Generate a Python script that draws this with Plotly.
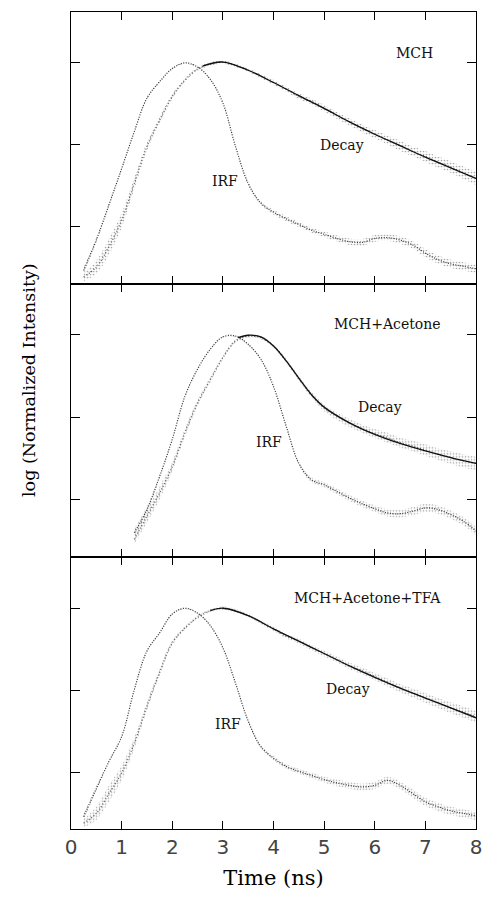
import plotly.graph_objects as go
from plotly.subplots import make_subplots

# time grid (ns)
t_grid = [0.25, 0.5, 0.75, 1.0, 1.25, 1.5, 1.75, 2.0, 2.25, 2.5, 2.75, 3.0, 3.25, 3.5,
          3.75, 4.0, 4.25, 4.5, 4.75, 5.0, 5.25, 5.5, 5.75, 6.0, 6.25, 6.5, 6.75, 7.0,
          7.25, 7.5, 7.75, 8.0]

# log10 of normalized intensity, MCH
irf_mch = [-2.54, -2.17, -1.74, -1.30, -0.85, -0.44, -0.24, -0.08, -0.01, -0.06, -0.21,
           -0.50, -1.03, -1.48, -1.72, -1.83, -1.91, -1.98, -2.05, -2.10, -2.15, -2.19,
           -2.20, -2.15, -2.14, -2.17, -2.23, -2.33, -2.41, -2.46, -2.49, -2.52]
decay_mch = [-2.62, -2.50, -2.25, -1.93, -1.48, -1.03, -0.71, -0.42, -0.22, -0.085, -0.024,
             0.0, -0.04, -0.10, -0.17, -0.25, -0.33, -0.42, -0.48, -0.565, -0.65, -0.73,
             -0.81, -0.88, -0.95, -1.02, -1.09, -1.15, -1.22, -1.28, -1.35, -1.42]
# half-width of the scatter of counts (decades)
irf_sd_mch = [0.04, 0.03, 0.02, 0.01, 0.01, 0.01, 0.01, 0.01, 0.01, 0.01, 0.01,
              0.01, 0.01, 0.02, 0.02, 0.03, 0.03, 0.03, 0.03, 0.035, 0.035, 0.04,
              0.04, 0.04, 0.04, 0.045, 0.045, 0.05, 0.05, 0.05, 0.05, 0.05]
decay_sd_mch = [0.05, 0.08, 0.10, 0.09, 0.07, 0.05, 0.04, 0.03, 0.02, 0.02, 0.02,
                0.02, 0.02, 0.02, 0.025, 0.03, 0.03, 0.035, 0.035, 0.04, 0.04, 0.045,
                0.05, 0.05, 0.055, 0.06, 0.06, 0.065, 0.07, 0.07, 0.075, 0.08]

# MCH + Acetone
irf_ace = [None, None, None, None, -2.40, -2.12, -1.72, -1.27, -0.75, -0.42, -0.18,
           -0.03, -0.02, -0.12, -0.30, -0.63, -1.11, -1.56, -1.76, -1.82, -1.90, -1.98,
           -2.05, -2.11, -2.16, -2.17, -2.14, -2.10, -2.12, -2.18, -2.26, -2.38]
decay_ace = [None, None, None, None, -2.48, -2.20, -1.92, -1.60, -1.19, -0.83, -0.55,
             -0.28, -0.08, -0.02, -0.04, -0.14, -0.32, -0.53, -0.73, -0.89, -0.99, -1.07,
             -1.14, -1.20, -1.25, -1.31, -1.35, -1.40, -1.45, -1.49, -1.53, -1.56]
irf_sd_ace = [None, None, None, None, 0.05, 0.04, 0.02, 0.01, 0.01, 0.01, 0.01,
              0.01, 0.01, 0.01, 0.01, 0.01, 0.01, 0.02, 0.03, 0.03, 0.035, 0.035,
              0.04, 0.04, 0.045, 0.045, 0.05, 0.05, 0.05, 0.05, 0.05, 0.05]
decay_sd_ace = [None, None, None, None, 0.06, 0.08, 0.08, 0.06, 0.05, 0.04, 0.03,
                0.02, 0.02, 0.02, 0.02, 0.02, 0.025, 0.03, 0.035, 0.04, 0.045, 0.05,
                0.05, 0.055, 0.06, 0.06, 0.065, 0.07, 0.07, 0.075, 0.08, 0.08]

# MCH + Acetone + TFA
irf_tfa = [-2.53, -2.19, -1.86, -1.56, -0.99, -0.52, -0.30, -0.07, 0.0, -0.06, -0.21,
           -0.48, -0.91, -1.37, -1.68, -1.82, -1.92, -1.98, -2.03, -2.08, -2.12, -2.15,
           -2.17, -2.15, -2.09, -2.15, -2.25, -2.35, -2.41, -2.46, -2.49, -2.52]
decay_tfa = [-2.61, -2.49, -2.25, -2.00, -1.64, -1.19, -0.78, -0.42, -0.24, -0.11, -0.03,
             0.0, -0.03, -0.09, -0.17, -0.25, -0.34, -0.40, -0.48, -0.55, -0.62, -0.70,
             -0.76, -0.83, -0.90, -0.97, -1.03, -1.09, -1.15, -1.21, -1.26, -1.32]
irf_sd_tfa = [0.04, 0.03, 0.02, 0.01, 0.01, 0.01, 0.01, 0.01, 0.01, 0.01, 0.01,
              0.01, 0.01, 0.02, 0.02, 0.025, 0.03, 0.03, 0.035, 0.035, 0.04, 0.04,
              0.04, 0.045, 0.045, 0.045, 0.05, 0.05, 0.05, 0.05, 0.05, 0.05]
decay_sd_tfa = [0.05, 0.08, 0.10, 0.09, 0.07, 0.05, 0.04, 0.03, 0.02, 0.02, 0.02,
                0.02, 0.02, 0.02, 0.02, 0.025, 0.025, 0.03, 0.03, 0.035, 0.035, 0.04,
                0.04, 0.045, 0.05, 0.05, 0.055, 0.06, 0.06, 0.065, 0.07, 0.07]

# fitted decay curves
fit_t_mch = [2.6, 3.0, 3.5, 4.0, 4.5, 5.0, 5.5, 6.0, 6.5, 7.0, 7.5, 8.0]
fit_mch = [-0.05, 0.0, -0.10, -0.25, -0.41, -0.565, -0.73, -0.88, -1.02, -1.16, -1.29, -1.42]
fit_t_ace = [3.3, 3.5, 3.75, 4.0, 4.25, 4.5, 4.75, 5.0, 5.5, 6.0, 6.5, 7.0, 7.5, 8.0]
fit_ace = [-0.04, -0.01, -0.03, -0.14, -0.32, -0.53, -0.73, -0.88, -1.07, -1.21, -1.32,
           -1.41, -1.49, -1.56]
fit_t_tfa = [2.75, 3.0, 3.5, 4.0, 4.5, 5.0, 5.5, 6.0, 6.5, 7.0, 7.5, 8.0]
fit_tfa = [-0.03, 0.0, -0.09, -0.25, -0.40, -0.55, -0.70, -0.84, -0.97, -1.09, -1.21, -1.33]

panels = [
    ("MCH", irf_mch, irf_sd_mch, decay_mch, decay_sd_mch, fit_t_mch, fit_mch,
     [-2.71, 0.61], (6.78, 0.11), (5.36, -1.01), (3.04, -1.45)),
    ("MCH+Acetone", irf_ace, irf_sd_ace, decay_ace, decay_sd_ace, fit_t_ace, fit_ace,
     [-2.69, 0.606], (6.25, 0.12), (6.10, -0.88), (3.92, -1.30)),
    ("MCH+Acetone+TFA", irf_tfa, irf_sd_tfa, decay_tfa, decay_sd_tfa, fit_t_tfa, fit_tfa,
     [-2.68, 0.626], (5.85, 0.13), (5.48, -0.98), (3.10, -1.41)),
]

SERIF = "DejaVu Serif"

fig = make_subplots(rows=3, cols=1, shared_xaxes=True, vertical_spacing=0)


def lin(vals):
    return [None if v is None else 10 ** v for v in vals]


def band(center, spread, sign):
    return [None if c is None else 10 ** (c + sign * s) for c, s in zip(center, spread)]


def add_band(center, spread, row, pattern_size, solidity):
    """Stippled band showing the photon-count scatter around a measured curve."""
    xs = [t for t, c in zip(t_grid, center) if c is not None]
    lo = [v for v in band(center, spread, -1) if v is not None]
    hi = [v for v in band(center, spread, +1) if v is not None]
    fig.add_trace(go.Scatter(x=xs, y=lo, mode="lines", line_shape="spline",
                             line=dict(width=0), hoverinfo="skip", showlegend=False),
                  row=row, col=1)
    fig.add_trace(go.Scatter(x=xs, y=hi, mode="lines", line_shape="spline",
                             line=dict(width=0), fill="tonexty",
                             fillcolor="rgba(0,0,0,0)",
                             fillpattern=dict(shape=".", fgcolor="#555555",
                                              bgcolor="rgba(0,0,0,0)",
                                              size=pattern_size, solidity=solidity),
                             hoverinfo="skip", showlegend=False),
                  row=row, col=1)


for i, (name, irf, irf_sd, dec, dec_sd, ft, fv, yr, lab_pos, dec_pos, irf_pos) in enumerate(panels, start=1):
    add_band(irf, irf_sd, i, 3, 0.25)
    add_band(dec, dec_sd, i, 3, 0.25)
    fig.add_trace(go.Scatter(x=t_grid, y=lin(irf), mode="lines", line_shape="spline",
                             line=dict(color="#333333", width=1.2, dash="1px,1.5px"),
                             showlegend=False), row=i, col=1)
    fig.add_trace(go.Scatter(x=t_grid, y=lin(dec), mode="lines", line_shape="spline",
                             line=dict(color="#666666", width=1.4, dash="1px,2px"),
                             showlegend=False), row=i, col=1)
    fig.add_trace(go.Scatter(x=ft, y=lin(fv), mode="lines", line_shape="spline",
                             line=dict(color="#111111", width=1.3),
                             showlegend=False), row=i, col=1)
    fig.update_yaxes(type="log", range=yr, tickvals=[0.01, 0.1, 1], showticklabels=False,
                     ticks="inside", ticklen=9, tickcolor="black", showline=True,
                     linecolor="black", linewidth=1.2, mirror="ticks", showgrid=False,
                     zeroline=False, row=i, col=1)
    yref = "y" if i == 1 else f"y{i}"
    xref = "x" if i == 1 else f"x{i}"
    for txt, (ax_, ay_) in ((name, lab_pos), ("Decay", dec_pos), ("IRF", irf_pos)):
        fig.add_annotation(x=ax_, y=ay_, xref=xref, yref=yref, text=txt, showarrow=False,
                           font=dict(family=SERIF, size=14, color="#111111"))

fig.update_xaxes(range=[0, 8], tickvals=list(range(9)), ticks="inside", ticklen=8,
                 tickcolor="black", showline=True, linecolor="black", linewidth=1.2,
                 mirror="ticks", showgrid=False, zeroline=False)
fig.update_xaxes(showticklabels=True, ticklabeloverflow="allow",
                 tickfont=dict(family="DejaVu Sans", size=20, color="#444444"),
                 title=dict(text="Time (ns)", font=dict(family=SERIF, size=21, color="black"),
                            standoff=12),
                 row=3, col=1)

fig.add_annotation(x=-0.135, y=0.55, xref="paper", yref="paper", text="log (Normalized Intensity)",
                   textangle=-90, showarrow=False,
                   font=dict(family=SERIF, size=17.5, color="black"))

fig.update_layout(width=486, height=901, margin=dict(l=71, r=4, t=12, b=72),
                  paper_bgcolor="white", plot_bgcolor="white")

fig.write_html("out.html")
